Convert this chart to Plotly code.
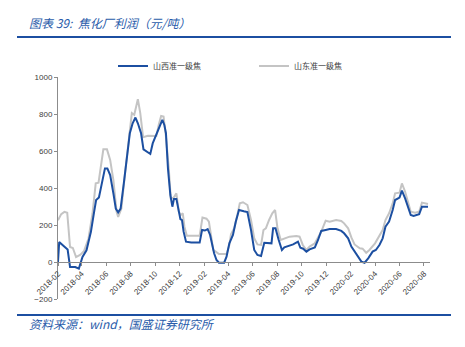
import plotly.graph_objects as go

# 山西准一级焦 coking profit (元/吨)
shanxi_dates = [
    "2018-02-01", "2018-02-04", "2018-02-13", "2018-02-25", "2018-03-03", "2018-03-16", "2018-03-25",
    "2018-04-03", "2018-04-13", "2018-04-24", "2018-05-02", "2018-05-07", "2018-05-14", "2018-05-22",
    "2018-05-29", "2018-06-04", "2018-06-11", "2018-06-19", "2018-06-25", "2018-07-01", "2018-07-07",
    "2018-07-16", "2018-07-24", "2018-07-30", "2018-08-06", "2018-08-13", "2018-08-19", "2018-08-27",
    "2018-09-02", "2018-09-10", "2018-09-19", "2018-09-25", "2018-10-04", "2018-10-12", "2018-10-19",
    "2018-10-24", "2018-10-28", "2018-11-02", "2018-11-08", "2018-11-13", "2018-11-17", "2018-11-23",
    "2018-11-27", "2018-12-03", "2018-12-07", "2018-12-11", "2018-12-17", "2018-12-30", "2019-01-20",
    "2019-01-26", "2019-02-02", "2019-02-09", "2019-02-15", "2019-02-21", "2019-02-25", "2019-03-03",
    "2019-03-09", "2019-03-22", "2019-03-28", "2019-04-04", "2019-04-13", "2019-04-20", "2019-04-28",
    "2019-05-10", "2019-05-19", "2019-05-28", "2019-06-05", "2019-06-13", "2019-06-22", "2019-06-30",
    "2019-07-12", "2019-07-18", "2019-07-22", "2019-07-28", "2019-08-05", "2019-08-13", "2019-08-19",
    "2019-08-28", "2019-09-10", "2019-09-22", "2019-09-28", "2019-10-05", "2019-10-13", "2019-10-21",
    "2019-11-03", "2019-11-11", "2019-11-19", "2019-11-30", "2019-12-10", "2019-12-26", "2020-01-08",
    "2020-01-15", "2020-01-25", "2020-02-02", "2020-02-10", "2020-02-18", "2020-02-27", "2020-03-06",
    "2020-03-15", "2020-03-26", "2020-04-03", "2020-04-12", "2020-04-20", "2020-04-27", "2020-05-06",
    "2020-05-15", "2020-05-21", "2020-06-01", "2020-06-07", "2020-06-15", "2020-06-24", "2020-06-29",
    "2020-07-06", "2020-07-20", "2020-07-27", "2020-08-11",
]
shanxi_values = [
    0, 108, 90, 67, -27, -27, -36,
    27, 63, 163, 271, 335, 349, 443,
    506, 506, 470, 371, 289, 268, 289,
    443, 597, 696, 750, 781, 750, 696,
    609, 597, 584, 641, 686, 731, 768,
    741, 696, 506, 362, 299, 341, 341,
    290, 232, 227, 164, 110, 105, 105,
    173, 170, 178, 146, 92, 47, 11,
    -4, -4, 29, 101, 146, 218, 281,
    274, 270, 173, 65, 38, 32, 104,
    101, 101, 182, 182, 119, 65, 79,
    86, 95, 110, 77, 72, 56, 68,
    79, 119, 168, 173, 178, 178, 168,
    155, 128, 83, 56, 29, 2, -4,
    20, 56, 65, 92, 128, 191, 218,
    281, 335, 348, 386, 344, 290, 254,
    249, 259, 299, 299,
]

# 山东准一级焦 coking profit (元/吨)
shandong_dates = [
    "2018-02-01", "2018-02-09", "2018-02-17", "2018-02-24", "2018-03-03", "2018-03-10", "2018-03-18",
    "2018-03-29", "2018-04-07", "2018-04-18", "2018-04-28", "2018-05-06", "2018-05-13", "2018-05-18",
    "2018-05-25", "2018-06-03", "2018-06-11", "2018-06-19", "2018-06-27", "2018-07-01", "2018-07-09",
    "2018-07-18", "2018-07-28", "2018-08-04", "2018-08-10", "2018-08-19", "2018-08-25", "2018-09-01",
    "2018-09-13", "2018-09-29", "2018-10-04", "2018-10-10", "2018-10-16", "2018-10-22", "2018-10-28",
    "2018-11-04", "2018-11-09", "2018-11-16", "2018-11-23", "2018-11-29", "2018-12-04", "2018-12-09",
    "2018-12-13", "2018-12-19", "2019-01-20", "2019-01-27", "2019-02-06", "2019-02-12", "2019-02-18",
    "2019-02-23", "2019-03-01", "2019-03-09", "2019-03-28", "2019-04-04", "2019-04-08", "2019-04-16",
    "2019-04-24", "2019-04-30", "2019-05-08", "2019-05-19", "2019-05-28", "2019-06-05", "2019-06-13",
    "2019-06-22", "2019-06-28", "2019-07-04", "2019-07-12", "2019-07-20", "2019-07-27", "2019-08-02",
    "2019-08-10", "2019-08-19", "2019-09-01", "2019-09-18", "2019-09-26", "2019-10-04", "2019-10-13",
    "2019-10-21", "2019-11-03", "2019-11-11", "2019-11-19", "2019-11-30", "2019-12-10", "2019-12-26",
    "2020-01-08", "2020-01-15", "2020-01-25", "2020-02-02", "2020-02-10", "2020-02-23", "2020-03-01",
    "2020-03-10", "2020-03-18", "2020-04-01", "2020-04-10", "2020-04-20", "2020-04-27", "2020-05-06",
    "2020-05-15", "2020-05-21", "2020-06-01", "2020-06-07", "2020-06-15", "2020-06-24", "2020-06-29",
    "2020-07-10", "2020-07-20", "2020-07-27", "2020-08-11",
]
shandong_values = [
    226, 259, 271, 266, 81, 76, 27,
    40, 60, 127, 262, 425, 429, 506,
    609, 609, 552, 443, 271, 244, 289,
    479, 678, 805, 796, 880, 805, 675,
    682, 682, 681, 741, 789, 786, 678,
    506, 344, 347, 371, 272, 254, 263,
    191, 142, 142, 240, 234, 218, 146,
    65, 56, 43, 43, 92, 150, 182,
    254, 317, 323, 308, 227, 128, 95,
    92, 173, 182, 227, 263, 281, 182,
    119, 128, 137, 140, 137, 92, 65,
    83, 101, 133, 164, 223, 218, 227,
    222, 209, 182, 133, 95, 74, 72,
    50, 65, 101, 137, 173, 227, 263,
    317, 371, 375, 425, 380, 308, 272,
    267, 272, 321, 314,
]

series_names = ["山西准一级焦", "山东准一级焦"]
tick_start = "2018-02-01"

W, H = 465, 347
L, R, T, B = 58, 35, 77, 48
PW, PH = W - L - R, H - T - B


def px(x):
    return (x - L) / PW


def py(y):
    return (H - B - y) / PH


BLUE = "#1c4fa1"
GREY = "#c4c4c4"
AXIS = "#8c8c8c"
TXT = "#404040"
FONT = "Liberation Sans, Arial, sans-serif"
CJK = "Noto Sans CJK SC"

fig = go.Figure()
# grey series first so the blue line is drawn on top
fig.add_trace(go.Scatter(x=shandong_dates, y=shandong_values, mode="lines", name=series_names[1],
                         legendrank=2, line=dict(color=GREY, width=2)))
fig.add_trace(go.Scatter(x=shanxi_dates, y=shanxi_values, mode="lines", name=series_names[0],
                         legendrank=1, line=dict(color=BLUE, width=2)))

y_min, y_max = -200, 1000
fig.update_layout(
    width=W, height=H,
    margin=dict(l=L, r=R, t=T, b=B),
    paper_bgcolor="white", plot_bgcolor="white",
    showlegend=True,
    legend=dict(orientation="h", x=px(113), y=py(66), xanchor="left", yanchor="middle",
                entrywidth=96, entrywidthmode="pixels",
                font=dict(family=CJK, size=8, color=TXT), bgcolor="rgba(0,0,0,0)"),
    xaxis=dict(
        type="date",
        range=["2018-02-01", "2020-08-16"],
        tick0=tick_start, dtick="M2", tickformat="%Y-%m",
        tickangle=-45,
        ticks="outside", ticklen=3, tickcolor=AXIS,
        showline=True, linecolor=AXIS, linewidth=1,
        showgrid=False, zeroline=False,
        anchor="free", position=(0 - y_min) / (y_max - y_min),
        tickfont=dict(family=FONT, size=8, color=TXT),
    ),
    yaxis=dict(
        range=[y_min, y_max], dtick=200,
        ticks="outside", ticklen=3, tickcolor=AXIS,
        showline=True, linecolor=AXIS, linewidth=1,
        showgrid=False, zeroline=False,
        tickfont=dict(family=FONT, size=8, color=TXT),
    ),
)

# header and footer rules
for yline in (37, 315):
    fig.add_shape(type="line", xref="paper", yref="paper",
                  x0=px(17), x1=px(451), y0=py(yline), y1=py(yline),
                  line=dict(color="#1c4fa1", width=2))

fig.add_annotation(xref="paper", yref="paper", x=px(27), y=py(22), xanchor="left", yanchor="middle",
                   text="<i>图表 39:  焦化厂利润（元/吨）</i>", showarrow=False,
                   font=dict(family=CJK, size=12, color="#2a5caa"))
fig.add_annotation(xref="paper", yref="paper", x=px(27), y=py(323), xanchor="left", yanchor="middle",
                   text="<i>资料来源：wind，国盛证券研究所</i>", showarrow=False,
                   font=dict(family=CJK, size=12, color="#2a5caa"))

fig.write_html("out.html")
